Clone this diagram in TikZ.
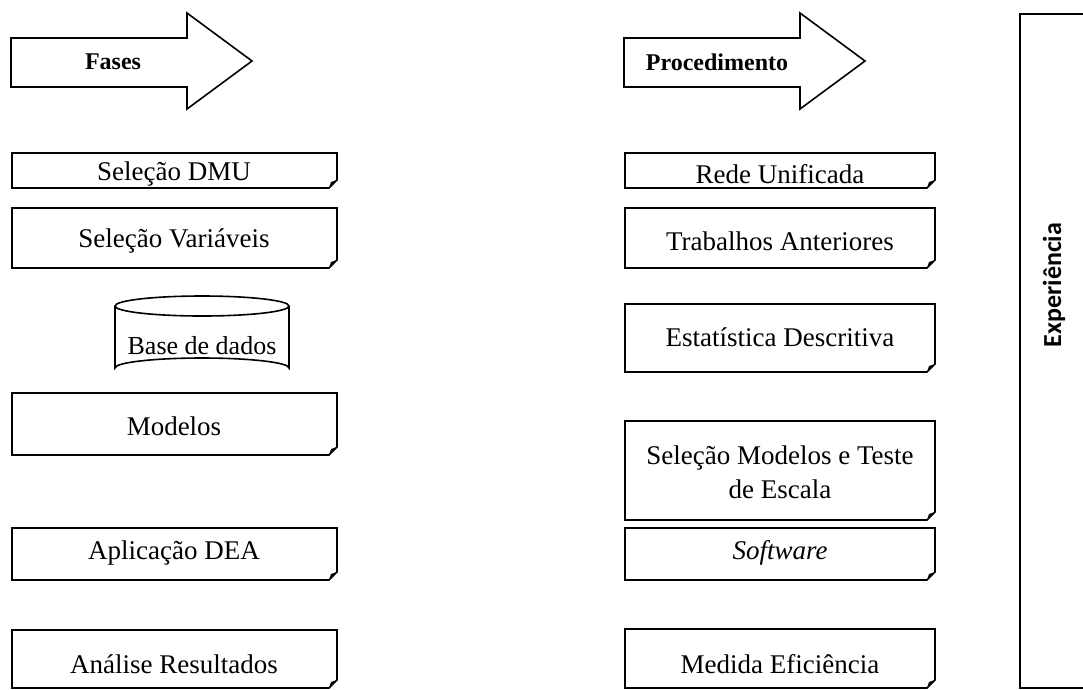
\documentclass[tikz,border=0pt]{standalone}
\usepackage{fontspec}
\setmainfont{Liberation Serif}
\newfontfamily\calib{Carlito}
\begin{document}
\begin{tikzpicture}[x=1pt,y=-1pt,
  outline/.style={draw=black,line width=1.6pt,line join=miter,fill=white},
  txt/.style={font=\fontsize{27}{34}\selectfont,align=center,inner sep=0pt,yshift=-3pt},
  head/.style={font=\bfseries\fontsize{24}{28}\selectfont,inner sep=0pt}]
\newcommand\foldbox[4]{%
  \draw[outline] (#1,#2) -- (#3,#2) -- (#3,#4-8) -- (#3-8,#4) -- (#1,#4) -- cycle;
  \fill[black] (#3,#4-8) -- (#3-8,#4) -- (#3-6,#4-6) -- cycle;}
\useasboundingbox (0,0) rectangle (1083,689);
% arrows
\draw[outline] (11,38) -- (187,38) -- (187,13) -- (252,61) -- (187,109) -- (187,87) -- (11,87) -- cycle;
\node[head] (fases) at (113,62) {Fases};
\draw[outline] (624,38) -- (800,38) -- (800,13) -- (865,61) -- (800,109) -- (800,87) -- (624,87) -- cycle;
\node[head] (proc) at (717,62) {Procedimento};
% left column
\foldbox{12}{153}{337}{188}
\node[txt] (dmu) at (174,171) {Seleção DMU};
\foldbox{12}{208}{337}{268}
\node[txt] (var) at (174,238) {Seleção Variáveis};
% cylinder
\draw[outline] (115,306) -- (115,368) arc[start angle=180,end angle=360,x radius=87,y radius=10] -- (289,306);
\draw[outline] (202,306) ellipse[x radius=87,y radius=10];
\node[txt,font=\fontsize{26}{32}\selectfont] (base) at (202,343) {Base de dados};
\foldbox{12}{393}{337}{455}
\node[txt] (mod) at (174,423) {Modelos};
\foldbox{12}{528}{337}{580}
\node[txt] (dea) at (174,550) {Aplicação DEA};
\foldbox{12}{630}{337}{688}
\node[txt] (res) at (174,661) {Análise Resultados};
% right column
\foldbox{625}{153}{935}{188}
\node[txt] (rede) at (780,171) {Rede Unificada};
\foldbox{625}{208}{935}{268}
\node[txt] (trab) at (780,238) {Trabalhos Anteriores};
\foldbox{625}{304}{935}{372}
\node[txt] (est) at (780,334) {Estatística Descritiva};
\foldbox{625}{421}{935}{520}
\node[txt] (selm) at (780,469) {Seleção Modelos e Teste\\de Escala};
\foldbox{625}{528}{935}{580}
\node[txt] (soft) at (780,550) {\itshape Software};
\foldbox{625}{629}{935}{688}
\node[txt] (med) at (780,661) {Medida Eficiência};
% experience box
\draw[outline] (1090,14) -- (1020,14) -- (1020,688) -- (1090,688);
\node[inner sep=0pt,rotate=90,font=\calib\bfseries\fontsize{26}{30}\selectfont] (exp) at (1054,285) {Experiência};
\end{tikzpicture}
\end{document}
